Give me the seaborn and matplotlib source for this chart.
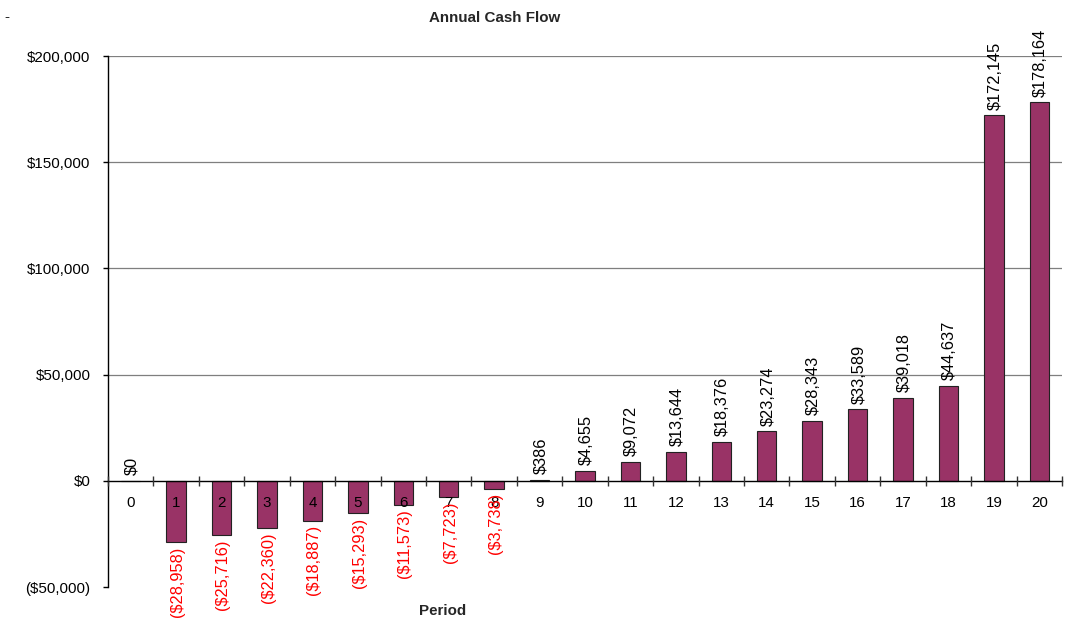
import numpy as np
import pandas as pd
import matplotlib
matplotlib.use("Agg")
import matplotlib.pyplot as plt
from matplotlib.ticker import FuncFormatter, FixedLocator
import seaborn as sns

# Annual cash flow per period
periods = [str(p) for p in range(21)]
cash_flow = [0, -28958, -25716, -22360, -18887, -15293, -11573, -7723, -3738,
             386, 4655, 9072, 13644, 18376, 23274, 28343, 33589, 39018, 44637,
             172145, 178164]
y_ticks = [-50000, 0, 50000, 100000, 150000, 200000]

sns.set_theme(style="white")
plt.rcParams["font.family"] = ["Liberation Sans", "DejaVu Sans"]

BAR = "#993366"
FS = 10.9


def money(v):
    if v < 0:
        return f"(${-v:,.0f})"
    return f"${v:,.0f}"


df = pd.DataFrame({"Period": periods, "Cash": cash_flow})

fig = plt.figure(figsize=(10.72, 6.26), dpi=100)
ax = fig.add_axes([108 / 1072, 1 - 587 / 626, (1062 - 108) / 1072, (587 - 56) / 626])

sns.barplot(data=df, x="Period", y="Cash", order=periods, color=BAR,
            saturation=1, width=0.43, edgecolor="#222222", linewidth=0.8,
            ax=ax)

# axis labels and ticks are drawn over the bars
ax.set_axisbelow(False)
ax.set_xlim(-0.5, len(periods) - 0.5)
ax.set_ylim(y_ticks[0], y_ticks[-1])

# horizontal gridlines behind the bars
for t in y_ticks:
    if t > 0:
        ax.axhline(t, color="#7f7f7f", linewidth=0.9, zorder=0)

# spines: left axis, category axis crossing at zero
for s in ("top", "right"):
    ax.spines[s].set_visible(False)
ax.spines["left"].set_color("black")
ax.spines["left"].set_linewidth(1.0)
ax.spines["bottom"].set_position(("data", 0))
ax.spines["bottom"].set_color("black")
ax.spines["bottom"].set_linewidth(1.0)

ax.yaxis.set_major_locator(FixedLocator(y_ticks))
ax.yaxis.set_major_formatter(FuncFormatter(lambda v, _: money(v)))
ax.tick_params(axis="y", which="major", direction="out", length=3.5,
               width=1, color="black", pad=9, labelsize=FS,
               labelcolor="black", left=True)

# category labels with separator ticks between categories
ax.set_xticks(range(len(periods)))
ax.set_xticklabels(periods)
ax.set_xticks(np.arange(len(periods) + 1) - 0.5, minor=True)
ax.tick_params(axis="x", which="major", length=0, pad=11, labelsize=FS,
               labelcolor="black", bottom=True)
ax.tick_params(axis="x", which="minor", direction="inout", length=7,
               width=1, color="#333333", bottom=True)
ax.set_xlabel("")
ax.set_ylabel("")

# value labels on each bar
for i, v in enumerate(cash_flow):
    if v < 0:
        ax.annotate(money(v), xy=(i, v), xytext=(1, -3),
                    textcoords="offset points", rotation=90, ha="center",
                    va="top", color="#ff0000", fontsize=11.8)
    else:
        ax.annotate(money(v), xy=(i, v), xytext=(1, 4),
                    textcoords="offset points", rotation=90, ha="center",
                    va="bottom", color="black", fontsize=11.8)

fig.text(495 / 1072, 1 - 18 / 626, "Annual Cash Flow", ha="center",
         va="center", fontsize=FS, fontweight="bold")
fig.text(443 / 1072, 1 - 611 / 626, "Period", ha="center", va="center",
         fontsize=FS, fontweight="bold")
fig.text(7 / 1072, 1 - 17 / 626, "-", ha="center", va="center", fontsize=FS)

fig.savefig("out.png", dpi=100)
